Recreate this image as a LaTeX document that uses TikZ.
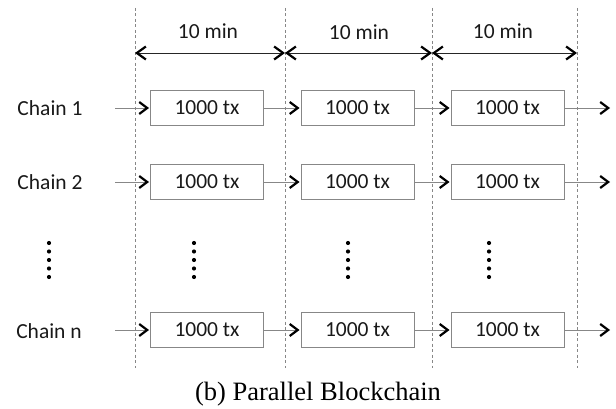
\documentclass[tikz,border=0pt]{standalone}
\usepackage{fontspec}
\setmainfont{Carlito}
\newfontfamily\capfont{Liberation Serif}
\usepackage{tikz}
\usetikzlibrary{arrows.meta}
\usepackage{xcolor}
\definecolor{linegray}{RGB}{135,135,135}
\definecolor{textdark}{RGB}{25,25,25}

\begin{document}
\begin{tikzpicture}[x=1pt,y=-1pt,
    block/.style={rectangle,draw=linegray,line width=0.9pt,minimum width=113pt,minimum height=35pt,inner sep=0pt,text=textdark,font=\fontsize{21.5}{25}\selectfont},
    txt/.style={text=textdark,inner sep=0pt,font=\fontsize{21.5}{25}\selectfont},
    link/.style={draw=linegray,line width=0.8pt,shorten >=1pt,-{Straight Barb[color=black,length=8pt,width=12pt,line width=2.2pt]}},
    span/.style={draw=black!85,line width=0.8pt,{Straight Barb[color=black,length=9pt,width=13pt,line width=2.2pt]}-{Straight Barb[color=black,length=9pt,width=13pt,line width=2.2pt]}},
    slot/.style={draw=linegray,line width=0.9pt,dash pattern=on 3pt off 2.5pt}]
    \useasboundingbox (0,0) rectangle (616,409);

    % Time slots
    \coordinate (t1) at (135,8);   \coordinate (u1) at (135,368);
    \coordinate (t2) at (285,8);   \coordinate (u2) at (285,368);
    \coordinate (t3) at (432,8);   \coordinate (u3) at (432,368);
    \coordinate (t4) at (577,8);   \coordinate (u4) at (577,368);
    \draw[slot] (t1) -- (u1);
    \draw[slot] (t2) -- (u2);
    \draw[slot] (t3) -- (u3);
    \draw[slot] (t4) -- (u4);

    % Intervals
    \coordinate (d1) at (135,53);
    \coordinate (d2) at (285,53);
    \coordinate (d3) at (432,53);
    \coordinate (d4) at (577,53);
    \draw[span] (d1) -- (d2);
    \draw[span] (d2) -- (d3);
    \draw[span] (d3) -- (d4);
    \node[txt] (m1) at (208,31) {10 min};
    \node[txt] (m2) at (359,32) {10 min};
    \node[txt] (m3) at (503,31) {10 min};

    % Chain 1
    \node[txt] (c1) at (50,108) {Chain 1};
    \coordinate (s1) at (115,108);
    \node[block] (b11) at (207,108) {1000 tx};
    \node[block] (b12) at (357.5,108) {1000 tx};
    \node[block] (b13) at (507.5,108) {1000 tx};
    \coordinate (e1) at (611,108);
    \draw[link] (s1) -- (b11);
    \draw[link] (b11) -- (b12);
    \draw[link] (b12) -- (b13);
    \draw[link] (b13) -- (e1);

    % Chain 2
    \node[txt] (c2) at (50,182) {Chain 2};
    \coordinate (s2) at (115,182);
    \node[block] (b21) at (207,182) {1000 tx};
    \node[block] (b22) at (357.5,182) {1000 tx};
    \node[block] (b23) at (507.5,182) {1000 tx};
    \coordinate (e2) at (611,182);
    \draw[link] (s2) -- (b21);
    \draw[link] (b21) -- (b22);
    \draw[link] (b22) -- (b23);
    \draw[link] (b23) -- (e2);

    % Vertical dots
    \foreach \x in {49,194,348,489}
        \foreach \y in {243,251.5,260,268.5,277}
            \fill[black] (\x,\y) circle (2.1pt);

    % Chain n
    \node[txt] (cn) at (49,331) {Chain n};
    \coordinate (sn) at (115,330);
    \node[block] (bn1) at (207,330) {1000 tx};
    \node[block] (bn2) at (357.5,330) {1000 tx};
    \node[block] (bn3) at (507.5,330) {1000 tx};
    \coordinate (en) at (611,330);
    \draw[link] (sn) -- (bn1);
    \draw[link] (bn1) -- (bn2);
    \draw[link] (bn2) -- (bn3);
    \draw[link] (bn3) -- (en);

    % Caption
    \node[inner sep=0pt,font=\capfont\fontsize{26.5}{30}\selectfont] (cap) at (318,394) {(b) Parallel Blockchain};
\end{tikzpicture}
\end{document}
